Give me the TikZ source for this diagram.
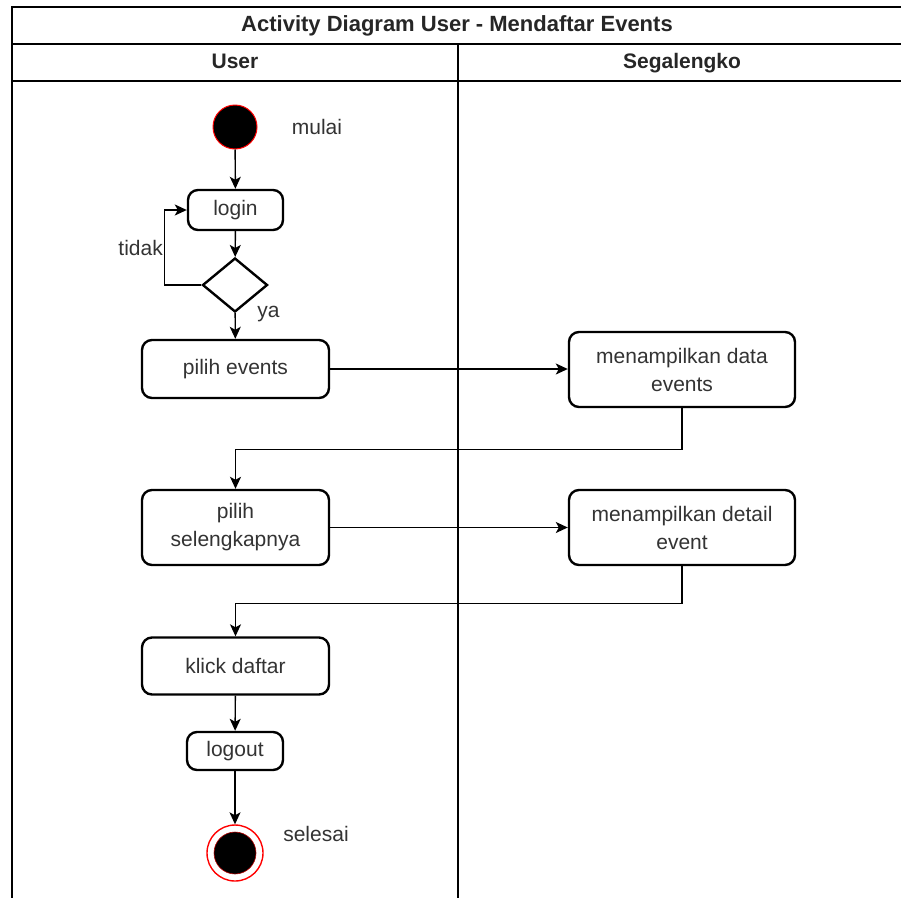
\documentclass[tikz,border=0pt]{standalone}
\usepackage{fontspec}
\setmainfont{Liberation Sans}
\usetikzlibrary{arrows.meta,shapes.geometric}
\definecolor{txt}{HTML}{333333}
\begin{document}
\begin{tikzpicture}[x=1pt,y=-1pt,
  act/.style={draw=black, line width=2.4pt, rounded corners=10pt, fill=white,
    text=txt, font=\fontsize{21}{28}\selectfont, align=center, inner sep=0pt},
  flow/.style={line width=1.4pt, -{Stealth[length=12pt,width=11pt,inset=3pt]}},
  lbl/.style={text=txt, font=\fontsize{21}{25}\selectfont, inner sep=0pt},
  head/.style={text=black!85, font=\fontsize{21}{25}\selectfont\bfseries, inner sep=0pt,
    text height=15pt, text depth=4pt},
  lane/.style={line width=1.6pt, line cap=rect}]
\useasboundingbox (0,0) rectangle (901,897);

% swimlane frame
\draw[lane] (12,897) -- (12,7) -- (901,7);
\draw[lane] (12,44) -- (901,44);
\draw[lane] (12,81) -- (901,81);
\draw[lane] (458,44) -- (458,897);
\node[head, font=\fontsize{22}{26}\selectfont\bfseries] (title) at (457,26) {Activity Diagram User - Mendaftar Events};
\node[head] (laneuser) at (235,63) {User};
\node[head] (lanesys) at (682,63) {Segalengko};

% user lane
\node[circle, fill=black, draw=red, line width=1pt, minimum size=44pt, inner sep=0pt] (start) at (235,127) {};
\node[lbl] (mulai) at (317,127) {mulai};
\node[act, minimum width=95pt, minimum height=40pt] (login) at (235.5,210) {login};
\node[diamond, draw=black, line width=2.4pt, fill=white, minimum width=65pt, minimum height=54pt, inner sep=0pt] (dec) at (235,285) {};
\node[lbl, anchor=east] (tidak) at (163,248) {tidak};
\node[lbl] (ya) at (268.5,314) {ya};
\node[act, minimum width=187pt, minimum height=58pt] (pe) at (235.5,369) {pilih events};
\node[act, minimum width=187pt, minimum height=75pt] (ps) at (235.5,527.5) {pilih\\selengkapnya};
\node[act, minimum width=187pt, minimum height=57pt] (kd) at (235.5,666) {klick daftar};
\node[act, minimum width=96pt, minimum height=38pt] (lo) at (235,751) {logout};
\node[circle, draw=red, line width=1.4pt, fill=white, minimum size=56pt, inner sep=0pt] (end) at (235,853) {};
\node[circle, fill=black, draw=red!70!black, line width=0.6pt, minimum size=42pt, inner sep=0pt] (endcore) at (end.center) {};
\node[lbl] (selesai) at (316,834) {selesai};

% system lane
\node[act, minimum width=226pt, minimum height=75pt] (md) at (682,369.5) {menampilkan data\\events};
\node[act, minimum width=226pt, minimum height=75pt] (mdt) at (682,527.5) {menampilkan detail\\event};

% control flow
\draw[flow] (start) -- (login);
\draw[flow] (login) -- (dec);
\draw[flow] (dec.west) -- ++(-37,0) |- (login.west);
\draw[flow] (dec) -- (pe);
\draw[flow] (pe.east) -- (pe.east -| md.west);
\draw[flow] (md.south) -- ++(0,41) -| (ps.north);
\draw[flow] (ps.east) -- (ps.east -| mdt.west);
\draw[flow] (mdt.south) -- ++(0,37) -| (kd.north);
\draw[flow] (kd) -- (lo);
\draw[flow] (lo) -- (end);
\end{tikzpicture}
\end{document}
